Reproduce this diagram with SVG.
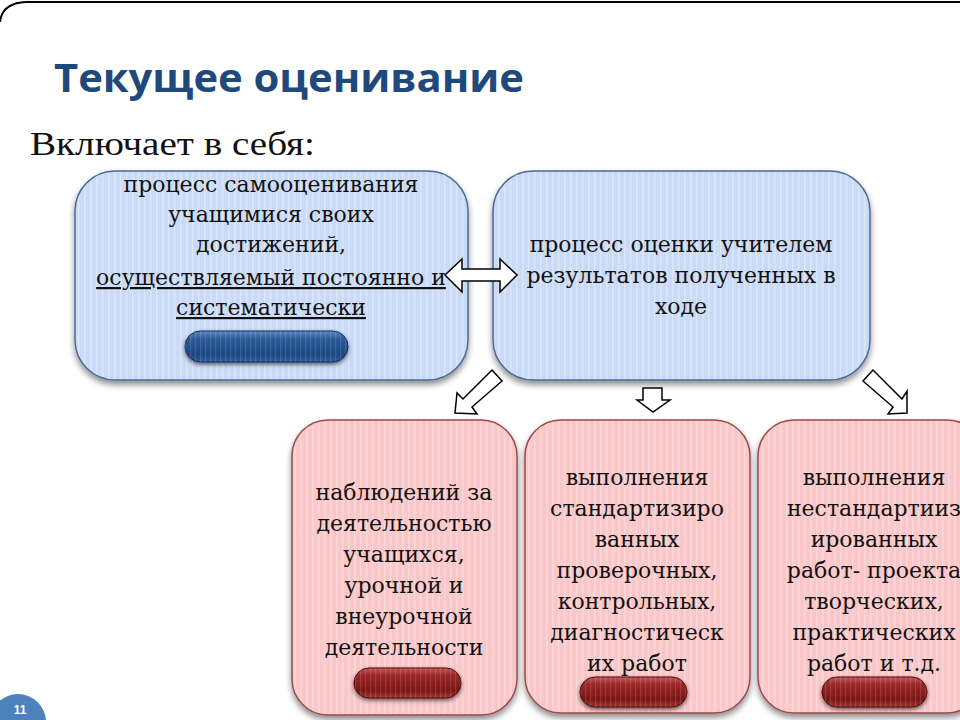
<svg xmlns="http://www.w3.org/2000/svg" width="960" height="720" viewBox="0 0 960 720">
<defs>
<pattern id="stripeBlue" width="6" height="10" patternUnits="userSpaceOnUse">
<rect width="6" height="10" fill="#c9dbf7"/>
<rect x="0" width="1.5" height="10" fill="#d9e6fb"/>
</pattern>
<pattern id="stripePink" width="6" height="10" patternUnits="userSpaceOnUse">
<rect width="6" height="10" fill="#fbc7c8"/>
<rect x="0" width="1.5" height="10" fill="#fdd6d7"/>
</pattern>
<linearGradient id="btnBlue" x1="0" y1="0" x2="0" y2="1">
<stop offset="0" stop-color="#5d86c2"/>
<stop offset="0.25" stop-color="#2b5a9a"/>
<stop offset="0.75" stop-color="#1c4680"/>
<stop offset="1" stop-color="#305e9c"/>
</linearGradient>
<linearGradient id="btnRed" x1="0" y1="0" x2="0" y2="1">
<stop offset="0" stop-color="#c25656"/>
<stop offset="0.25" stop-color="#9a2626"/>
<stop offset="0.75" stop-color="#7c1616"/>
<stop offset="1" stop-color="#a03636"/>
</linearGradient>
<pattern id="btnStripe" width="5" height="10" patternUnits="userSpaceOnUse">
<rect x="0" width="1.2" height="10" fill="#ffffff" fill-opacity="0.12"/>
</pattern>
<filter id="shadow" x="-10%" y="-10%" width="120%" height="125%">
<feGaussianBlur in="SourceAlpha" stdDeviation="3"/>
<feOffset dx="0" dy="4" result="b"/>
<feComponentTransfer><feFuncA type="linear" slope="0.45"/></feComponentTransfer>
<feMerge><feMergeNode/><feMergeNode in="SourceGraphic"/></feMerge>
</filter>
<filter id="btnShadow" x="-10%" y="-30%" width="120%" height="170%">
<feGaussianBlur in="SourceAlpha" stdDeviation="2"/>
<feOffset dx="0" dy="2" result="b"/>
<feComponentTransfer><feFuncA type="linear" slope="0.6"/></feComponentTransfer>
<feMerge><feMergeNode/><feMergeNode in="SourceGraphic"/></feMerge>
</filter>
</defs>
<style>
.blue{fill:url(#stripeBlue);stroke:#4a6a9a;stroke-width:1.5}
.pink{fill:url(#stripePink);stroke:#9a4a4a;stroke-width:1.5}
.t{font-family:"DejaVu Serif","Liberation Serif",serif;font-size:22px;fill:#111;text-anchor:middle}
.arrow{fill:#ffffff;stroke:#000;stroke-width:1.5;stroke-linejoin:miter}
.bb{fill:url(#btnBlue);stroke:#0f2a55;stroke-width:1}
.br{fill:url(#btnRed);stroke:#4a0a0a;stroke-width:1}
</style>
<rect width="960" height="720" fill="#ffffff"/>
<path d="M 0 22 Q 2 3 26 2 L 960 2" fill="none" stroke="#000" stroke-width="2"/>
<text x="54" y="92" font-family="'Open Sans','Liberation Sans',sans-serif" font-weight="bold" font-size="40" fill="#1f497d" textLength="470" lengthAdjust="spacingAndGlyphs">Текущее оценивание</text>
<text x="30" y="155" font-family="'Liberation Serif',serif" font-size="33" fill="#111" textLength="285" lengthAdjust="spacingAndGlyphs">Включает в себя:</text>

<g id="node-self">
<rect x="75" y="171" width="393" height="209" rx="40" class="blue" filter="url(#shadow)"/>
<text class="t" x="271" y="192">процесс самооценивания</text>
<text class="t" x="271" y="222">учащимися своих</text>
<text class="t" x="271" y="252">достижений,</text>
<text class="t" x="271" y="285" text-decoration="underline">осуществляемый постоянно и</text>
<text class="t" x="271" y="315" text-decoration="underline">систематически</text>
<g filter="url(#btnShadow)"><rect x="185" y="331" width="163" height="31" rx="15.5" class="bb"/><rect x="185" y="331" width="163" height="31" rx="15.5" fill="url(#btnStripe)"/></g>
</g>

<g id="node-teacher">
<rect x="493" y="171" width="377" height="209" rx="40" class="blue" filter="url(#shadow)"/>
<text class="t" x="681" y="252">процесс оценки учителем</text>
<text class="t" x="681" y="283">результатов полученных в</text>
<text class="t" x="681" y="314">ходе</text>
</g>

<g id="node-observe">
<rect x="292" y="420" width="225" height="295" rx="36" class="pink" filter="url(#shadow)"/>
<text class="t" x="404" y="500">наблюдений за</text>
<text class="t" x="404" y="531">деятельностью</text>
<text class="t" x="404" y="562">учащихся,</text>
<text class="t" x="404" y="593">урочной и</text>
<text class="t" x="404" y="624">внеурочной</text>
<text class="t" x="404" y="655">деятельности</text>
<g filter="url(#btnShadow)"><rect x="354" y="668" width="107" height="30" rx="15" class="br"/><rect x="354" y="668" width="107" height="30" rx="15" fill="url(#btnStripe)"/></g>
</g>

<g id="node-standard">
<rect x="525" y="420" width="225" height="293" rx="36" class="pink" filter="url(#shadow)"/>
<text class="t" x="637" y="485">выполнения</text>
<text class="t" x="637" y="516">стандартизиро</text>
<text class="t" x="637" y="547">ванных</text>
<text class="t" x="637" y="578">проверочных,</text>
<text class="t" x="637" y="609">контрольных,</text>
<text class="t" x="637" y="640">диагностическ</text>
<text class="t" x="637" y="671">их работ</text>
<g filter="url(#btnShadow)"><rect x="580" y="677" width="107" height="30" rx="15" class="br"/><rect x="580" y="677" width="107" height="30" rx="15" fill="url(#btnStripe)"/></g>
</g>

<g id="node-nonstandard">
<rect x="758" y="420" width="225" height="293" rx="36" class="pink" filter="url(#shadow)"/>
<text class="t" x="874" y="485">выполнения</text>
<text class="t" x="874" y="516">нестандартииз</text>
<text class="t" x="874" y="547">ированных</text>
<text class="t" x="874" y="578">работ- проекта</text>
<text class="t" x="874" y="609">творческих,</text>
<text class="t" x="874" y="640">практических</text>
<text class="t" x="874" y="671">работ и т.д.</text>
<g filter="url(#btnShadow)"><rect x="822" y="677" width="105" height="30" rx="15" class="br"/><rect x="822" y="677" width="105" height="30" rx="15" fill="url(#btnStripe)"/></g>
</g>

<g id="connectors">
<path class="arrow" d="M 445 275 L 462 259 L 462 269 L 500 269 L 500 259 L 517 275 L 500 292 L 500 281 L 462 281 L 462 292 Z"/>
<path class="arrow" d="M 492 370 L 502 381 L 472 407 L 477 414 L 455 413 L 457 393 L 463 399 Z"/>
<path class="arrow" d="M 643 388 L 662 388 L 662 400 L 670 400 L 653 412 L 637 400 L 643 400 Z"/>
<path class="arrow" d="M 873 370 L 863 381 L 893 407 L 888 414 L 907 413 L 907 391 L 902 399 Z"/>
</g>

<g id="page-number">
<circle cx="18" cy="722" r="28" fill="#4f81bd"/>
<text x="20" y="714" font-family="'Liberation Sans',sans-serif" font-weight="bold" font-size="12" fill="#ffffff" text-anchor="middle">11</text>
</g>
</svg>
